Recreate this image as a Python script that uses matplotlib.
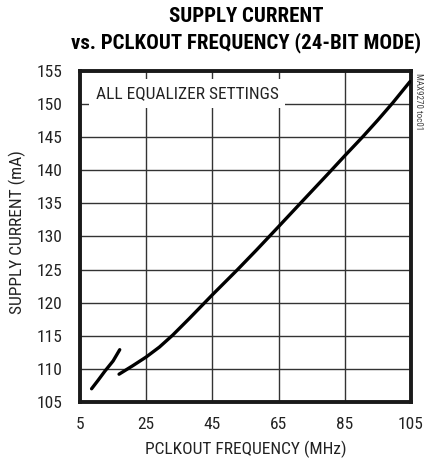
import matplotlib
matplotlib.use("Agg")
import matplotlib.pyplot as plt

plt.rcParams["font.family"] = ["Roboto Condensed", "DejaVu Sans"]

# segment below ~17 MHz
freq_low = [8.5, 10.5, 12.5, 15.0, 17.0]
curr_low = [107.0, 108.3, 109.65, 111.2, 112.9]

# main segment
freq_high = [16.8, 21.0, 25.0, 29.0, 33.0, 38.0, 45.0, 52.6, 58.4, 65.0,
             72.3, 80.0, 85.0, 90.3, 95.0, 99.5, 104.7]
curr_high = [109.2, 110.5, 111.8, 113.3, 115.1, 117.6, 121.2, 125.0, 128.0, 131.5,
             135.4, 139.5, 142.2, 145.0, 147.6, 150.2, 153.4]

x_ticks = [5, 25, 45, 65, 85, 105]
y_ticks = [105, 110, 115, 120, 125, 130, 135, 140, 145, 150, 155]

fig = plt.figure(figsize=(4.24, 4.62), dpi=100)
ax = fig.add_axes([80 / 424, 1 - 402 / 462, 331 / 424, 331 / 462])

ax.plot(freq_low, curr_low, color="black", lw=2.4, solid_capstyle="round", zorder=3)
ax.plot(freq_high, curr_high, color="black", lw=2.4, solid_capstyle="round", zorder=3)

ax.set_xlim(5, 105)
ax.set_ylim(105, 155)
ax.set_xticks(x_ticks)
ax.set_yticks(y_ticks)
ax.tick_params(length=0, labelsize=12.5, labelcolor="#222222")
ax.tick_params(axis="x", pad=10.5)
ax.tick_params(axis="y", pad=12.5)
ax.grid(True, color="#333333", lw=1.0)
ax.set_axisbelow(True)
for s in ax.spines.values():
    s.set_linewidth(2.8)
    s.set_color("#1a1a1a")

ax.set_xlabel("PCLKOUT FREQUENCY (MHz)", fontsize=12.5, color="#222222", va="top")
ax.set_ylabel("SUPPLY CURRENT (mA)", fontsize=12.5, color="#222222")
ax.xaxis.set_label_coords(0.5, (402 - 441) / 331)
ax.yaxis.set_label_coords((26 - 80) / 331, (402 - 232) / 331)

ax.text(0.047, 0.932, "ALL EQUALIZER SETTINGS", transform=ax.transAxes,
        fontsize=12.5, va="center", ha="left", zorder=2, color="#222222",
        bbox=dict(facecolor="white", edgecolor="none", pad=5))

fig.text(418 / 424, 1 - 102 / 462, "MAX9270 toc01", rotation=270, fontsize=6.5,
         color="#444444", ha="center", va="center")

fig.text(246 / 424, 1 - 17 / 462, "SUPPLY CURRENT", fontsize=15, fontweight="bold",
         ha="center", va="center")
fig.text(246 / 424, 1 - 43 / 462, "vs. PCLKOUT FREQUENCY (24-BIT MODE)", fontsize=15,
         fontweight="bold", ha="center", va="center")

fig.savefig("out.png", dpi=100)
